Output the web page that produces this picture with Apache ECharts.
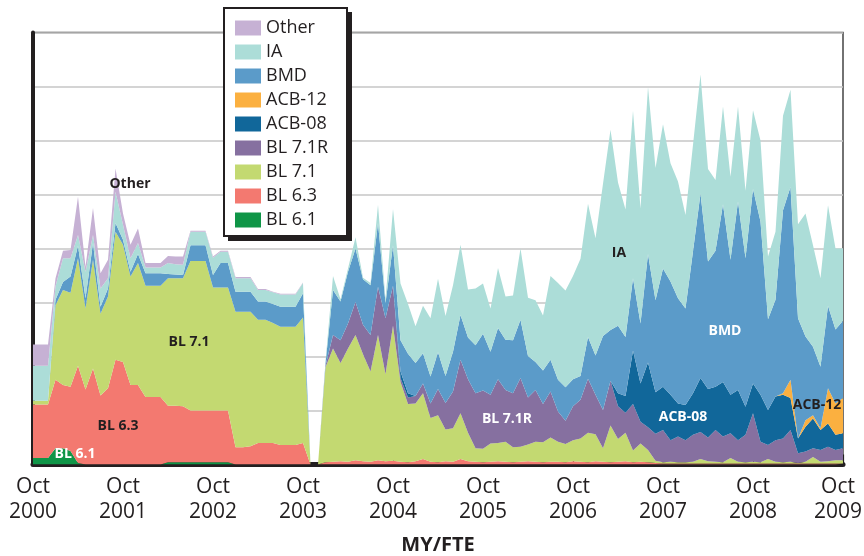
<!DOCTYPE html>
<html>
<head>
<meta charset="utf-8">
<script src="https://cdn.jsdelivr.net/npm/echarts@6/dist/echarts.min.js"></script>
<style>
html,body{margin:0;padding:0;background:#fff;}
#chart{width:864px;height:556px;}
</style>
</head>
<body>
<div id="chart"></div>
<script>
// Monthly categories Oct 2000 .. Oct 2009
var monthNames = ['Jan','Feb','Mar','Apr','May','Jun','Jul','Aug','Sep','Oct','Nov','Dec'];
var categories = [];
for (var k = 0; k < 109; k++) {
  var m = (9 + k) % 12;
  var y = 2000 + Math.floor((9 + k) / 12);
  categories.push(monthNames[m] + ' ' + y);
}
var tickLabels = ['Oct 2000','Oct 2001','Oct 2002','Oct 2003','Oct 2004','Oct 2005','Oct 2006','Oct 2007','Oct 2008','Oct 2009'];

var bl61 = [12,12,12,30,30,25,3,0,0,0, 0,0,0,0,0,0,0,0,4,4, 4,4,4,4,4,4,4,0,0,0,
  0,0,0,0,0,0,0,0,0,0, 0,0,0,0,0,0,0,0,0,0, 0,0,0,0,0,0,0,0,0,0, 0,0,0,0,0,0,0,0,0,0,
  0,0,0,0,0,0,0,0,0,0, 0,0,0,0,0,0,0,0,0,0, 0,0,0,0,0,0,0,0,0,0, 0,0,0,0,0,0,0,0,0];
var bl63 = [99,99,99,127,117,119,180,139,178,128, 141,194,190,147,147,125,125,125,105,105,
  104,96,96,96,96,96,96,32,32,34, 40,40,40,36,36,36,40,0,0,4, 5,6,5,8,6,5,8,6,7,5,
  4,6,10,5,4,6,5,10,6,5, 4,5,6,5,4,5,6,5,4,5, 5,4,6,5,4,6,5,4,5,6, 4,5,4,3,2,2,2,2,2,2,
  2,2,2,2,2,2,2,2,2,2, 2,2,2,2,2,2,2,2,2];
var bl71 = [7,7,7,138,176,174,199,150,201,151, 170,237,217,201,226,206,206,206,236,236,
  237,277,277,277,228,228,228,251,251,249, 228,228,222,219,219,219,232,0,0,176,
  210,182,210,232,198,167,232,161,250,148, 108,107,122,81,87,59,62,85,53,25,
  25,34,34,37,28,28,31,37,37,45, 37,34,39,43,55,50,25,68,42,53, 22,34,23,4,2,3,2,2,3,8,
  4,3,2,10,3,2,3,2,8,3, 2,3,1,3,12,3,4,6,6];
var bl71r = [0,0,0,0,0,0,0,0,0,0, 0,0,0,0,0,0,0,0,0,0, 0,0,0,0,0,0,0,0,0,0, 0,0,0,0,0,0,0,0,0,3,
  25,42,46,61,55,68,89,104,74,7, 12,14,18,27,49,49,68,99,99,102, 108,90,118,96,100,127,87,96,71,85,
  56,43,63,72,100,73,71,83,61,37, 86,40,42,50,60,40,48,41,50,50, 44,59,48,46,40,51,90,38,26,40,
  44,59,18,19,16,22,27,19,22];
var acb08 = [0,0,0,0,0,0,0,0,0,0, 0,0,0,0,0,0,0,0,0,0, 0,0,0,0,0,0,0,0,0,0, 0,0,0,0,0,0,0,0,0,0,
  0,0,0,0,0,0,0,0,0,12, 8,0,0,0,0,0,0,0,0,0, 0,0,0,0,0,0,0,0,0,0, 0,0,0,0,0,0,0,0,24,31,
  99,71,120,77,80,84,61,65,77,100, 90,80,101,71,93,52,55,87,65,81, 81,59,27,46,55,37,43,28,28];
var acb12 = [0,0,0,0,0,0,0,0,0,0, 0,0,0,0,0,0,0,0,0,0, 0,0,0,0,0,0,0,0,0,0, 0,0,0,0,0,0,0,0,0,0,
  0,0,0,0,0,0,0,0,0,0, 0,0,0,0,0,0,0,0,0,0, 0,0,0,0,0,0,0,0,0,0, 0,0,0,0,0,0,0,0,0,0,
  0,0,0,0,0,0,0,0,0,0, 0,0,0,0,0,0,0,0,0,0, 3,34,0,12,6,3,65,58,65];
var bmd = [0,0,0,10,15,30,23,19,31,13, 15,16,9,9,17,23,23,23,8,7, 6,29,29,29,23,45,45,37,37,37,
  34,34,35,37,37,37,45,0,0,4, 83,72,96,99,84,92,118,28,75,58, 73,61,56,50,68,50,74,83,77,89,
  105,80,95,93,98,108,77,52,62,59, 59,62,50,44,77,73,137,94,125,109, 134,111,201,170,219,210,195,179,263,342,
  236,252,329,250,349,275,360,321,168,179, 339,357,223,155,127,114,153,137,143];
var ia = [65,65,65,25,44,34,20,49,15,34, 19,58,28,25,20,11,11,11,20,19, 19,25,25,25,32,21,21,25,25,25,
  21,21,22,23,23,23,19,0,0,4, 26,4,6,21,3,4,34,7,67,105, 92,68,88,108,136,111,123,130,89,105,
  93,80,111,80,83,132,108,114,102,155, 179,179,191,217,247,217,282,371,265,236,
  310,213,309,245,267,219,216,173,197,220, 171,131,181,154,176,125,146,150,116,126,
  175,180,174,228,188,164,186,150,134];
var other = [39,39,39,15,14,15,71,9,50,28, 34,43,21,25,27,8,8,8,13,14, 15,2,2,2,2,2,2,2,2,2,
  2,2,1,1,1,1,1,0,0,0, 0,0,0,0,0,0,0,0,0,0, 0,0,0,0,0,0,0,0,0,0, 0,0,0,0,0,0,0,0,0,0,
  0,0,0,0,0,0,0,0,0,0, 0,0,0,0,0,0,0,0,0,0, 0,0,0,0,0,0,0,0,0,0, 0,0,0,0,0,0,0,0,0];

var seriesDefs = [
  {name:'BL 6.1', data:bl61, color:'#0f9547'},
  {name:'BL 6.3', data:bl63, color:'#f37970'},
  {name:'BL 7.1', data:bl71, color:'#c3d971'},
  {name:'BL 7.1R', data:bl71r, color:'#8670a0'},
  {name:'ACB-08', data:acb08, color:'#11679a'},
  {name:'ACB-12', data:acb12, color:'#fbb040'},
  {name:'BMD', data:bmd, color:'#5b9bc9'},
  {name:'IA', data:ia, color:'#acddd8'},
  {name:'Other', data:other, color:'#c6b1d4'}
];
var legendOrder = ['Other','IA','BMD','ACB-12','ACB-08','BL 7.1R','BL 7.1','BL 6.3','BL 6.1'];

var annotations = [
  {text:'Other', x:130, y:184, fill:'#231f20'},
  {text:'BL 7.1', x:189, y:342, fill:'#231f20'},
  {text:'BL 6.3', x:118, y:426, fill:'#231f20'},
  {text:'BL 6.1', x:75, y:454, fill:'#ffffff'},
  {text:'IA', x:619, y:253, fill:'#231f20'},
  {text:'BMD', x:725, y:331, fill:'#ffffff'},
  {text:'BL 7.1R', x:507, y:419, fill:'#ffffff'},
  {text:'ACB-08', x:683, y:417, fill:'#ffffff'},
  {text:'ACB-12', x:817, y:405, fill:'#231f20'}
];

var chart = echarts.init(document.getElementById('chart'), null, {renderer:'canvas'});
var FONT = '"Open Sans", "DejaVu Sans", sans-serif';
function isTick(idx){ return idx % 12 === 0; }

var graphics = [
  {type:'rect', z:5, silent:true, shape:{x:228, y:12, width:124, height:229}, style:{fill:'#231f20'}},
  {type:'rect', z:6, silent:true, shape:{x:224, y:8, width:123, height:228}, style:{fill:'#ffffff', stroke:'#231f20', lineWidth:2}}
].concat(annotations.map(function(a){
  return {type:'text', x:a.x, y:a.y, z:100, silent:true,
    style:{text:a.text, fill:a.fill, font:'bold 14px ' + FONT, align:'center', verticalAlign:'middle', textAlign:'center', textVerticalAlign:'middle'}};
}));

var lblStyle = {fontSize:21, lineHeight:25, color:'#231f20', fontFamily:FONT};

var option = {
  animation:false,
  backgroundColor:'#ffffff',
  textStyle:{fontFamily:FONT},
  grid:{left:33, right:21, top:32.5, bottom:91.5, containLabel:false, outerBoundsMode:'none',
    show:true, borderColor:'#444', borderWidth:1.5, backgroundColor:'transparent'},
  legend:{
    data:legendOrder, orient:'vertical', left:223, top:7, z:20,
    icon:'rect', itemWidth:26, itemHeight:15, itemGap:6,
    padding:[12,16,11,12],
    textStyle:{fontSize:18, color:'#231f20', fontFamily:FONT},
    selectedMode:false
  },
  xAxis:{
    type:'category', data:categories, boundaryGap:false,
    axisLine:{lineStyle:{color:'#231f20', width:5}},
    axisTick:{show:true, inside:true, length:10, interval:function(i){return isTick(i);}, lineStyle:{color:'#231f20', width:1.2}},
    axisLabel:{interval:function(i){return isTick(i);}, fontSize:21, lineHeight:25, color:'#231f20', margin:10, fontFamily:FONT,
      formatter:function(v){
        if (tickLabels.indexOf(v) < 0) return '';
        var parts = v.split(' ');
        if (v === tickLabels[tickLabels.length - 1]) return '{e|' + parts[0] + '}\n{e|' + parts[1] + '}';
        return parts[0] + '\n' + parts[1];
      },
      rich:{e:{fontSize:21, lineHeight:25, color:'#231f20', fontFamily:FONT, padding:[0,10,0,0]}}
    },
    splitLine:{show:false},
    name:'MY/FTE', nameLocation:'middle', nameGap:71,
    nameTextStyle:{fontSize:20, fontWeight:'bold', color:'#231f20', fontFamily:FONT}
  },
  yAxis:{
    type:'value', min:0, max:800, interval:100,
    axisLine:{show:true, lineStyle:{color:'#231f20', width:4}},
    axisTick:{show:false}, axisLabel:{show:false},
    splitLine:{show:true, lineStyle:{color:'#c6c6c6', width:1.5}}
  },
  series: seriesDefs.map(function(s){
    return {
      name:s.name, type:'line', stack:'total', data:s.data,
      symbol:'none', showSymbol:false, smooth:false,
      lineStyle:{width:0, color:s.color},
      itemStyle:{color:s.color},
      areaStyle:{color:s.color, opacity:1},
      emphasis:{disabled:true}, silent:true
    };
  }),
  graphic: graphics
};
chart.setOption(option);
</script>
</body>
</html>
